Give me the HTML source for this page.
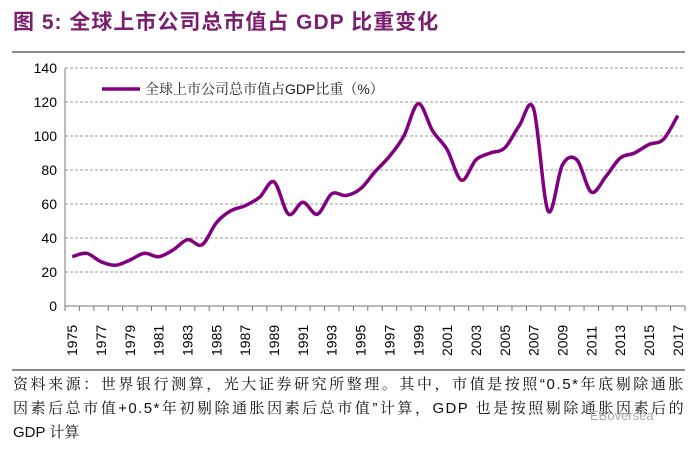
<!DOCTYPE html>
<html><head><meta charset="utf-8"><style>
body{margin:0;width:700px;height:449px;background:#fff;overflow:hidden;font-family:"Liberation Sans","Noto Sans CJK SC",sans-serif;position:relative}
#title{position:absolute;left:13px;top:6px;font-size:21px;color:#7a1f6e;font-weight:bold;letter-spacing:1px}
.hr{position:absolute;left:12px;width:673px;height:2px;background:#8c8c8c}
#foot{position:absolute;left:13px;top:373px;font-size:15px;line-height:24px;color:#111;font-family:"Liberation Sans","Noto Serif CJK SC",serif;width:672px}
#foot div{text-align:justify;text-align-last:justify;white-space:nowrap}
#foot div.last{text-align-last:left}
#wm{position:absolute;left:590px;top:408px;font-size:13px;color:#aaa}
</style></head><body>
<div id="title">图 5: 全球上市公司总市值占 GDP 比重变化</div>
<div class="hr" style="top:51px"></div>
<svg id="chart" width="700" height="370" style="position:absolute;left:0;top:0"></svg>
<div class="hr" style="top:369px"></div>
<div id="foot">
<div style="letter-spacing:1.6px">资料来源：世界银行测算，光大证券研究所整理。其中，市值是按照“0.5*年底剔除通胀</div>
<div style="letter-spacing:1.4px">因素后总市值+0.5*年初剔除通胀因素后总市值”计算，GDP 也是按照剔除通胀因素后的</div>
<div class="last">GDP 计算</div>
</div>
<div id="wm">EBoversea</div>
<script>
const years=[1975,1976,1977,1978,1979,1980,1981,1982,1983,1984,1985,1986,1987,1988,1989,1990,1991,1992,1993,1994,1995,1996,1997,1998,1999,2000,2001,2002,2003,2004,2005,2006,2007,2008,2009,2010,2011,2012,2013,2014,2015,2016,2017];
const values=[29,31,26,24,27,31,29,33,39,36,49,56,59,64,73,54,61,54,66,65,69,79,88,100,119,103,92,74,86,90,93,106,116,56,83,86,67,76,87,90,95,98,112];
const yTicks=[0,20,40,60,80,100,120,140];
const NS="http://www.w3.org/2000/svg";
const svg=document.getElementById('chart');
const L=65,R=685,T=68,B=306;
const y=v=>B-(v/140)*(B-T);
const bw=(R-L)/years.length;
const x=i=>L+bw*(i+0.5);
function mk(t,a){const e=document.createElementNS(NS,t);for(const k in a)e.setAttribute(k,a[k]);svg.appendChild(e);return e;}
yTicks.forEach(v=>{
 if(v>0){const g=mk('line',{x1:L,x2:R,y1:y(v),y2:y(v),stroke:'#999','stroke-dasharray':'3,2','stroke-width':1});
 
 }
 const t=mk('text',{x:L-8,y:y(v)+5,'text-anchor':'end','font-size':14,fill:'#000','font-family':'Liberation Sans'});
 t.textContent=v;
 
 
});
const ax=mk('path',{d:`M${L},${T} V${B} H${R}`,stroke:'#777',fill:'none','stroke-width':1});


for(let i=0;i<=years.length;i++){const tk=mk('line',{x1:L+bw*i,x2:L+bw*i,y1:B,y2:B+5,stroke:'#777'});
 
 }
years.forEach((yr,i)=>{if(i%2)return;
 const t=mk('text',{transform:`translate(${x(i)+5},${B+50}) rotate(-90)`,'font-size':14,fill:'#000','font-family':'Liberation Sans'});
 t.textContent=yr;
 
 });
const P=values.map((v,i)=>[x(i),y(v)]);
let d=`M${P[0][0]},${P[0][1]}`;
for(let i=0;i<P.length-1;i++){const p0=P[i-1]||P[i],p1=P[i],p2=P[i+1],p3=P[i+2]||P[i+1];
 d+=` C${p1[0]+(p2[0]-p0[0])/6},${p1[1]+(p2[1]-p0[1])/6} ${p2[0]-(p3[0]-p1[0])/6},${p2[1]-(p3[1]-p1[1])/6} ${p2[0]},${p2[1]}`;}
const ln=mk('path',{d:d,stroke:'#800080',fill:'none','stroke-width':3.5,'stroke-linejoin':'round'});


const lg=mk('line',{x1:102,x2:140,y1:89,y2:89,stroke:'#800080','stroke-width':3.5});


const lt=mk('text',{x:145,y:94,'font-size':14,fill:'#222','font-family':'Liberation Sans, Noto Serif CJK SC, serif'});
lt.textContent='全球上市公司总市值占GDP比重（%）';


</script>
</body></html>
